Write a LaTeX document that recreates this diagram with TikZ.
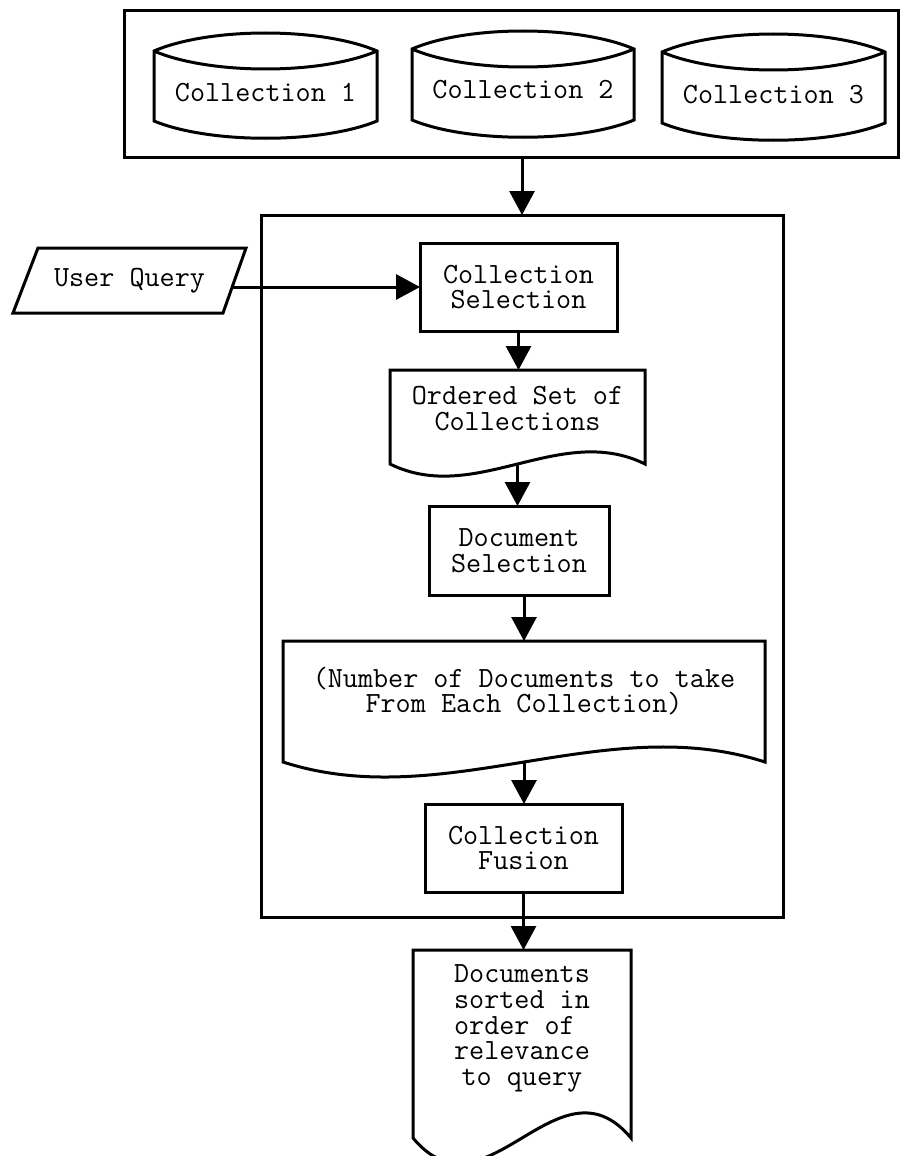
\documentclass[tikz,border=0pt]{standalone}
\usetikzlibrary{arrows.meta,calc}

\tikzset{
  every node/.style={font=\ttfamily\fontsize{29.3pt}{25.7pt}\selectfont, inner sep=0pt, outer sep=0pt},
  ln/.style={line width=3pt, line join=miter},
  arr/.style={line width=3pt, -{Triangle[length=24pt,width=25pt]}},
  procbox/.style={draw, line width=3pt, align=center},
  area/.style={inner sep=0pt, align=center},
}

% database cylinder drawn round a named area node: name, half width, half height
\newcommand\cylshape[3]{%
  \begin{scope}[shift={(#1.center)}]
    \draw[ln] ({-#2},{-#3+18}) .. controls ({-#2/2},{-#3-6}) and ({#2/2},{-#3-6}) .. ({#2},{-#3+18})
      -- ({#2},{#3-17}) .. controls ({#2/2},{#3+6}) and ({-#2/2},{#3+6}) .. ({-#2},{#3-17}) -- cycle;
    \draw[ln] ({-#2},{-#3+18}) .. controls ({-#2/2},{-#3+42}) and ({#2/2},{-#3+42}) .. ({#2},{-#3+18});
  \end{scope}}

% document shape with a wavy lower edge: name, half width, half height, wave control
\newcommand\docshape[4]{%
  \begin{scope}[shift={(#1.center)}]
    \draw[ln] ({-#2},{#3}) -- ({-#2},{-#3}) -- ({#2},{-#3}) -- ({#2},{#3})
      .. controls ({#2/3},{#3-#4}) and ({-#2/3},{#3+#4}) .. ({-#2},{#3}) -- cycle;
  \end{scope}}

\begin{document}
\begin{tikzpicture}[x=1pt,y=-1pt]
\fill[white] (0,0) rectangle (904,1156);
\useasboundingbox (0,0) rectangle (904,1156);

% collections
\node[procbox, minimum width=774pt, minimum height=146pt] (top) at (511,84) {};
\node[area, minimum width=223pt, minimum height=105pt,
      label={[yshift=-7pt]center:Collection 1}] (c1) at (265.5,85.5) {};
\node[area, minimum width=222pt, minimum height=106pt,
      label={[yshift=-5.6pt]center:Collection 2}] (c2) at (523,84) {};
\node[area, minimum width=223pt, minimum height=106pt,
      label={[yshift=-7.6pt]center:Collection 3}] (c3) at (773.5,87) {};
\cylshape{c1}{111.5}{52.5}
\cylshape{c2}{111}{53}
\cylshape{c3}{111.5}{53}

% retrieval system
\node[procbox, minimum width=522pt, minimum height=702pt] (inner) at (522,566) {};

% user query
\node[area, minimum width=233pt, minimum height=65pt] (uq) at (129.5,280.5) {User Query};
\begin{scope}[shift={(uq.center)}]
  \draw[ln] (-91.5,-32.5) -- (116.5,-32.5) -- (93.5,32.5) -- (-116.5,32.5) -- cycle;
  \coordinate (uqr) at (102.7,6.5);
\end{scope}

% steps
\node[procbox, minimum width=197pt, minimum height=88pt] (cs) at (518.5,287) {Collection\\Selection};
\node[area, minimum width=255pt, minimum height=94pt,
      label={[yshift=8.5pt, align=center]center:Ordered Set of\\Collections}] (od) at (517.5,417) {};
\docshape{od}{127.5}{47}{42}
\node[procbox, minimum width=180pt, minimum height=89pt] (ds) at (519,550.5) {Document\\Selection};
\node[area, minimum width=482pt, minimum height=121pt,
      label={[yshift=10.5pt, align=center]center:(Number of Documents to take\\From Each Collection)}] (nd) at (524,701.5) {};
\docshape{nd}{241}{60.5}{52}
\node[procbox, minimum width=197pt, minimum height=88pt] (fu) at (523.5,848) {Collection\\Fusion};

% result
\node[area, minimum width=218pt, minimum height=188pt,
      label={[yshift=15.5pt, align=center]center:Documents\\sorted in\\order of\phantom{x}\\relevance\\to query}] (fd) at (522,1044) {};
\docshape{fd}{109}{94}{87}

% connectors
\draw[arr] (top.south -| inner.north) -- (inner.north);
\draw[arr] (uqr) -- (uqr -| cs.west);
\draw[arr] (cs.south) -- (cs.south |- od.north);
\draw[arr] (od.south) -- (od.south |- ds.north);
\draw[arr] (ds.south -| nd.north) -- (nd.north);
\draw[arr] (nd.south) -- (nd.south |- fu.north);
\draw[arr] (fu.south) -- (fu.south |- fd.north);
\end{tikzpicture}
\end{document}
